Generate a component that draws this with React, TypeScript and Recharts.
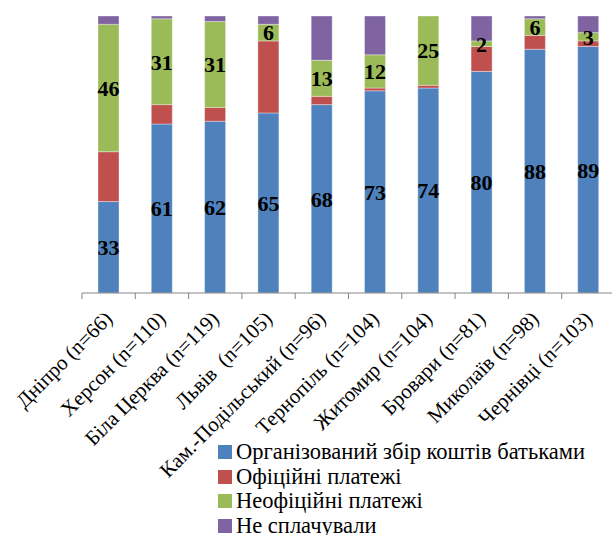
import React from "react";
import { BarChart, Bar, XAxis, YAxis, Legend, LabelList } from "recharts";

const categories = [
  "Дніпро (n=66)",
  "Херсон (n=110)",
  "Біла Церква (n=119)",
  "Львів  (n=105)",
  "Кам.-Подільський (n=96)",
  "Тернопіль (n=104)",
  "Житомир (n=104)",
  "Бровари (n=81)",
  "Миколаїв (n=98)",
  "Чернівці (n=103)",
];
const organized = [33, 61, 62, 65, 68, 73, 74, 80, 88, 89];
const official = [18, 7, 5, 26, 3, 1, 1, 9, 5, 2];
const unofficial = [46, 31, 31, 6, 13, 12, 25, 2, 6, 3];
const notPaid = [3, 1, 2, 3, 16, 14, 0, 9, 1, 6];

const seriesNames = [
  "Організований збір коштів батьками",
  "Офіційні платежі",
  "Неофіційні платежі",
  "Не сплачували",
];
const colors = ["#4F81BD", "#C0504D", "#9BBB59", "#8064A2"];

const data = categories.map((name, i) => ({
  name,
  organized: organized[i],
  official: official[i],
  unofficial: unofficial[i],
  notPaid: notPaid[i],
}));

const FONT = '"Liberation Serif", "Times New Roman", serif';

const CatTick = (props: any) => {
  const { x, y, payload, index, visibleTicksCount } = props;
  const off = payload && payload.offset ? payload.offset : 26.65;
  const last = index === (visibleTicksCount ?? categories.length) - 1;
  const ax = x + 5;
  const ay = y + 27;
  return (
    <g>
      <line x1={x - off} y1={y} x2={x - off} y2={y + 6} stroke="#868686" strokeWidth={1} />
      {last && <line x1={x + off} y1={y} x2={x + off} y2={y + 6} stroke="#868686" strokeWidth={1} />}
      <text
        x={ax}
        y={ay}
        transform={`rotate(-45 ${ax} ${ay})`}
        textAnchor="end"
        fontFamily={FONT}
        fontSize={21}
        fill="#000"
        style={{ whiteSpace: "pre" }}
      >
        {payload.value}
      </text>
    </g>
  );
};

const LegendContent = () => (
  <div style={{ fontFamily: FONT, fontSize: 22.5, color: "#000" }}>
    {seriesNames.map((n, i) => (
      <div key={n} style={{ display: "flex", alignItems: "center", height: 24.6, lineHeight: "24.6px" }}>
        <span style={{ display: "inline-block", width: 14, height: 14, background: colors[i], marginRight: 4 }} />
        <span style={{ whiteSpace: "nowrap" }}>{n}</span>
      </div>
    ))}
  </div>
);

const labelStyle = { fontFamily: FONT, fontSize: 22, fontWeight: 700 } as const;

export default function App() {
  return (
    <div style={{ position: "absolute", left: 0, top: 0, width: 612, height: 535, overflow: "hidden", background: "#fff" }}>
      <BarChart
        width={620}
        height={535}
        data={data}
        margin={{ top: 16, right: 5, left: 82, bottom: 212 }}
        barSize={21}
      >
        <XAxis
          dataKey="name"
          interval={0}
          height={30}
          tickSize={0}
          tickMargin={0}
          tickLine={false}
          axisLine={{ stroke: "#868686" }}
          tick={<CatTick />}
        />
        <YAxis hide domain={[0, 100]} />
        <Legend
          layout="horizontal"
          verticalAlign="middle"
          align="center"
          content={<LegendContent />}
          wrapperStyle={{ position: "absolute", left: 218, top: 440, width: 400 }}
        />
        <Bar dataKey="organized" stackId="a" fill={colors[0]} stroke="rgba(255,255,255,0.35)" strokeWidth={1} isAnimationActive={false} name={seriesNames[0]}>
          <LabelList dataKey="organized" position="center" fill="#000" fontFamily={FONT} style={labelStyle} />
        </Bar>
        <Bar dataKey="official" stackId="a" fill={colors[1]} stroke="rgba(255,255,255,0.35)" strokeWidth={1} isAnimationActive={false} name={seriesNames[1]} />
        <Bar dataKey="unofficial" stackId="a" fill={colors[2]} stroke="rgba(255,255,255,0.35)" strokeWidth={1} isAnimationActive={false} name={seriesNames[2]}>
          <LabelList dataKey="unofficial" position="center" fill="#000" fontFamily={FONT} style={labelStyle} />
        </Bar>
        <Bar dataKey="notPaid" stackId="a" fill={colors[3]} stroke="rgba(255,255,255,0.35)" strokeWidth={1} isAnimationActive={false} name={seriesNames[3]} />
      </BarChart>
    </div>
  );
}
